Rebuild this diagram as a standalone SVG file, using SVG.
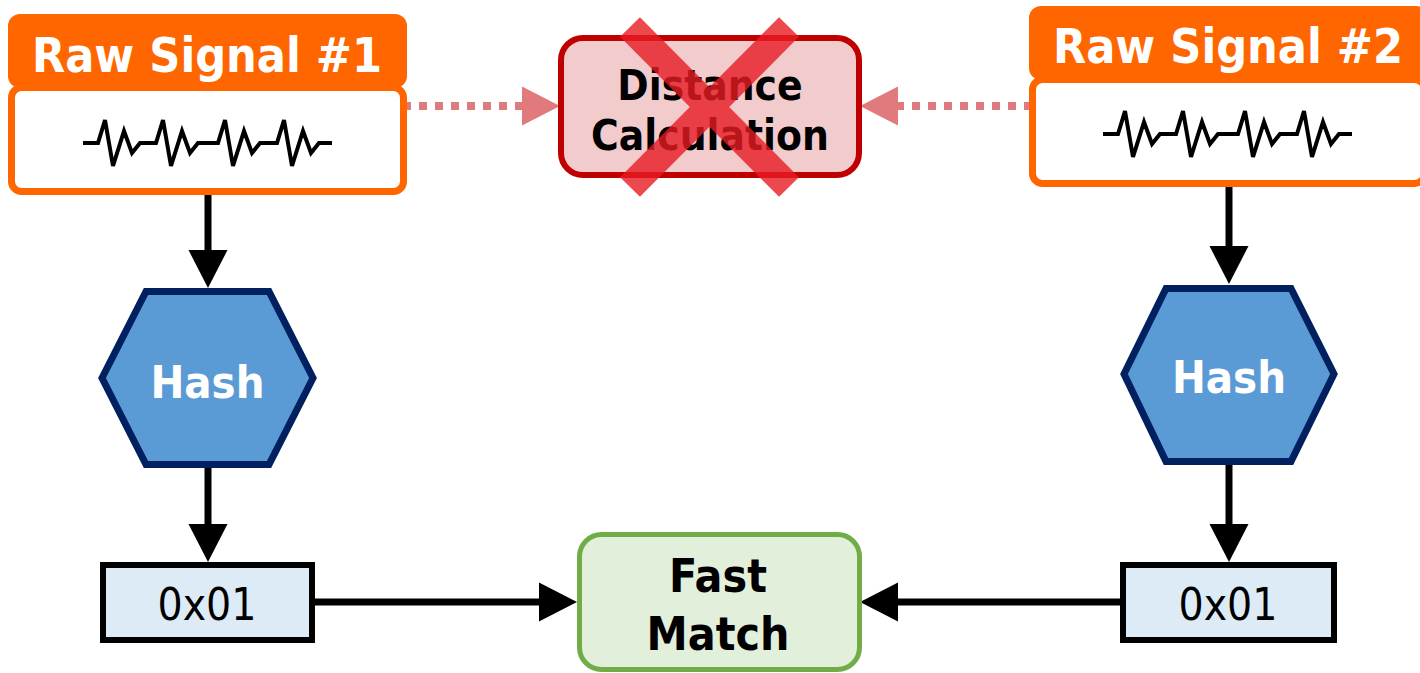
<svg xmlns="http://www.w3.org/2000/svg" width="1420" height="673" viewBox="0 0 1420 673">
<style>
.t{font-family:"DejaVu Sans Condensed","DejaVu Sans",sans-serif;text-anchor:middle;font-stretch:condensed}
.b{font-weight:bold}
.hdr{fill:#ff6600}
.body{fill:#ffffff;stroke:#ff6600;stroke-width:7}
.wave{fill:none;stroke:#000;stroke-width:4;stroke-linejoin:miter}
.hex{fill:#5b9bd5;stroke:#002060;stroke-width:7}
.hexbox{fill:#ddebf7;stroke:#000;stroke-width:6}
.conn{stroke:#000;stroke-width:7;fill:none}
.dot{stroke:#e07a7c;stroke-width:8;stroke-dasharray:8 8;fill:none}
</style>
<defs>
<marker id="ah" markerUnits="userSpaceOnUse" markerWidth="38" markerHeight="39" refX="0" refY="19.5" orient="auto" overflow="visible">
<path d="M0,0 L38,19.5 L0,39 z" fill="#000"/>
</marker>
<marker id="ahp" markerUnits="userSpaceOnUse" markerWidth="38" markerHeight="39" refX="0" refY="19.5" orient="auto" overflow="visible">
<path d="M0,0 L38,19.5 L0,39 z" fill="#e07a7c"/>
</marker>
<path id="wv" d="M83,143 L98,143 L105,120 L113,166 L124,131 L132,153 L140,143 L156,143 L163,120 L171,166 L182,131 L190,153 L198,143 L218,143 L225,120 L233,166 L244,131 L252,153 L260,143 L277,143 L284,120 L292,166 L303,131 L311,153 L319,143 L332,143"/>
</defs>

<g id="connectors">
<line class="dot" x1="403" y1="106" x2="522" y2="106" marker-end="url(#ahp)"/>
<line class="dot" x1="1032" y1="106" x2="898" y2="106" marker-end="url(#ahp)"/>
<line class="conn" x1="208" y1="195" x2="208" y2="250" marker-end="url(#ah)"/>
<line class="conn" x1="1229" y1="187" x2="1229" y2="246" marker-end="url(#ah)"/>
<line class="conn" x1="208" y1="468" x2="208" y2="524" marker-end="url(#ah)"/>
<line class="conn" x1="1229" y1="465" x2="1229" y2="524" marker-end="url(#ah)"/>
<line class="conn" x1="315" y1="602" x2="539" y2="602" marker-end="url(#ah)"/>
<line class="conn" x1="1120" y1="602" x2="898" y2="602" marker-end="url(#ah)"/>
</g>

<g id="raw1">
<rect class="body" x="11.5" y="87.5" width="392" height="104" rx="10"/>
<rect class="hdr" x="8" y="14" width="399" height="74" rx="12"/>
<text class="t b" x="207" y="72" font-size="48" fill="#fff">Raw Signal #1</text>
<use href="#wv" class="wave"/>
</g>

<g id="raw2">
<rect class="body" x="1032.5" y="79.5" width="392" height="104" rx="10"/>
<rect class="hdr" x="1029" y="6" width="399" height="74" rx="12"/>
<text class="t b" x="1228" y="63" font-size="48" fill="#fff">Raw Signal #2</text>
<use href="#wv" class="wave" transform="translate(1020,-9)"/>
</g>

<g id="distance">
<rect x="561" y="38" width="298" height="137" rx="22" fill="#f2cbcd" stroke="#c00000" stroke-width="6"/>
<text class="t b" x="710" y="100" font-size="42" fill="#000">Distance</text>
<text class="t b" x="710" y="150" font-size="42" fill="#000">Calculation</text>
<g opacity="0.8" stroke="#e81c24" stroke-width="28">
<line x1="630" y1="27" x2="789" y2="187"/>
<line x1="789" y1="27" x2="630" y2="187"/>
</g>
</g>

<g id="hash1">
<polygon class="hex" points="102,378 146,291.5 269,291.5 313,378 269,464.5 146,464.5"/>
<text class="t b" x="207.5" y="398" font-size="45" fill="#fff">Hash</text>
</g>

<g id="hash2">
<polygon class="hex" points="1124,374 1166,288.5 1291,288.5 1334,374 1291,461.5 1166,461.5"/>
<text class="t b" x="1229" y="393" font-size="45" fill="#fff">Hash</text>
</g>

<g id="hashval1">
<rect class="hexbox" x="103" y="565" width="209" height="75"/>
<text class="t" x="207" y="620" font-size="44" fill="#000">0x01</text>
</g>

<g id="hashval2">
<rect class="hexbox" x="1123" y="565" width="211" height="75"/>
<text class="t" x="1228" y="620" font-size="44" fill="#000">0x01</text>
</g>

<g id="fastmatch">
<rect x="579.5" y="534.5" width="280" height="135" rx="22" fill="#e2efda" stroke="#70ad47" stroke-width="5"/>
<text class="t b" x="718" y="592" font-size="46" fill="#000">Fast</text>
<text class="t b" x="718" y="650" font-size="46" fill="#000">Match</text>
</g>
</svg>
